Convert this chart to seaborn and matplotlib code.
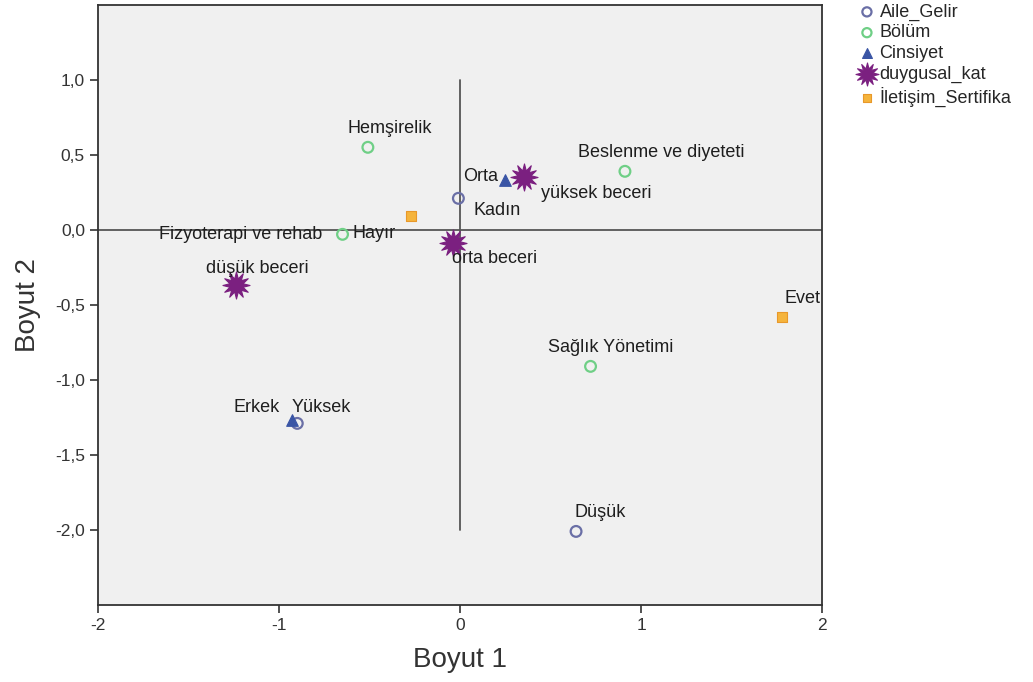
import pandas as pd
import matplotlib.pyplot as plt
import seaborn as sns

# kategori noktalari (Boyut 1, Boyut 2)
aile_gelir = ['Orta', 'Yüksek', 'Düşük']
aile_gelir_x = [-0.01, -0.90, 0.64]
aile_gelir_y = [0.21, -1.29, -2.01]

bolum = ['Hemşirelik', 'Beslenme ve diyeteti', 'Fizyoterapi ve rehab', 'Sağlık Yönetimi']
bolum_x = [-0.51, 0.91, -0.65, 0.72]
bolum_y = [0.55, 0.39, -0.03, -0.91]

cinsiyet = ['Kadın', 'Erkek']
cinsiyet_x = [0.25, -0.93]
cinsiyet_y = [0.33, -1.27]

duygusal = ['yüksek beceri', 'orta beceri', 'düşük beceri']
duygusal_x = [0.35, -0.04, -1.24]
duygusal_y = [0.35, -0.09, -0.37]

iletisim = ['Hayır', 'Evet']
iletisim_x = [-0.27, 1.78]
iletisim_y = [0.09, -0.58]

x_ticks = [-2, -1, 0, 1, 2]
y_ticks = [1.0, 0.5, 0.0, -0.5, -1.0, -1.5, -2.0]

rows = []
for grup, labels, xs, ys in [('Aile_Gelir', aile_gelir, aile_gelir_x, aile_gelir_y),
                             ('Bölüm', bolum, bolum_x, bolum_y),
                             ('Cinsiyet', cinsiyet, cinsiyet_x, cinsiyet_y),
                             ('duygusal_kat', duygusal, duygusal_x, duygusal_y),
                             ('İletişim_Sertifika', iletisim, iletisim_x, iletisim_y)]:
    for lab, x, y in zip(labels, xs, ys):
        rows.append({'grup': grup, 'etiket': lab, 'x': x, 'y': y})
df = pd.DataFrame(rows)

# stil: (marker, boyut, yuz rengi, kenar rengi)
stil = {
    'Aile_Gelir': ('o', 60, 'none', '#6a6fa6'),
    'Bölüm': ('o', 60, 'none', '#6fcf86'),
    'Cinsiyet': ('^', 70, '#3a55a5', '#3a55a5'),
    'duygusal_kat': ((12, 1, 0), 380, '#7b2080', '#7b2080'),
    'İletişim_Sertifika': ('s', 55, '#f5b43c', '#e8982a'),
}

# etiket kaydirmalari (piksel)
kayma = {
    'Orta': (22, -22), 'Yüksek': (24, -16), 'Düşük': (24, -19),
    'Hemşirelik': (22, -19), 'Beslenme ve diyeteti': (36, -19),
    'Fizyoterapi ve rehab': (-102, 0), 'Sağlık Yönetimi': (20, -19),
    'Kadın': (-8, 30), 'Erkek': (-35, -13),
    'yüksek beceri': (73, 16), 'orta beceri': (42, 15), 'düşük beceri': (22, -17),
    'Hayır': (-37, 17), 'Evet': (20, -18),
}

sns.set_style('ticks')
plt.rcParams['font.family'] = ['Liberation Sans', 'DejaVu Sans']

fig = plt.figure(figsize=(10.33, 6.82), dpi=100)
ax = fig.add_axes([0.095, 0.113, 0.701, 0.880])
ax.set_facecolor('#f0f0f0')

# referans cizgileri
ax.axhline(0, color='#555555', lw=1.3, zorder=1)
ax.plot([0, 0], [-2, 1], color='#555555', lw=1.3, zorder=1)

for grup, (m, s, fc, ec) in stil.items():
    d = df[df['grup'] == grup]
    sns.scatterplot(data=d, x='x', y='y', marker=m, s=s, color=fc, edgecolor=ec,
                    linewidth=1.6 if fc == 'none' else 0.8, label=grup, ax=ax, zorder=3)

for _, r in df.iterrows():
    dx, dy = kayma[r['etiket']]
    ax.annotate(r['etiket'], (r['x'], r['y']), xytext=(dx, -dy), textcoords='offset pixels',
                ha='center', va='center', fontsize=13, color='#1e1e1e', zorder=4)

ax.set_xlim(-2, 2)
ax.set_ylim(-2.5, 1.5)
ax.set_xticks(x_ticks)
ax.set_xticklabels([str(t) for t in x_ticks])
ax.set_yticks(y_ticks)
ax.set_yticklabels([f'{t:.1f}'.replace('.', ',') for t in y_ticks])
ax.tick_params(labelsize=12.5, length=6, width=1.2, color='#333333', labelcolor='#333333')
for sp in ax.spines.values():
    sp.set_color('#333333')
    sp.set_linewidth(1.3)

ax.set_xlabel('Boyut 1', fontsize=20, color='#333333', labelpad=10)
ax.set_ylabel('Boyut 2', fontsize=20, color='#333333', labelpad=10)

ax.legend(loc='upper left', bbox_to_anchor=(0.827, 1.0), bbox_transform=fig.transFigure,
          frameon=False, fontsize=13, handletextpad=0.2, handlelength=1.0, labelspacing=0.2,
          borderaxespad=0, borderpad=0.2, markerscale=0.85)

fig.savefig('out.png', dpi=100)
